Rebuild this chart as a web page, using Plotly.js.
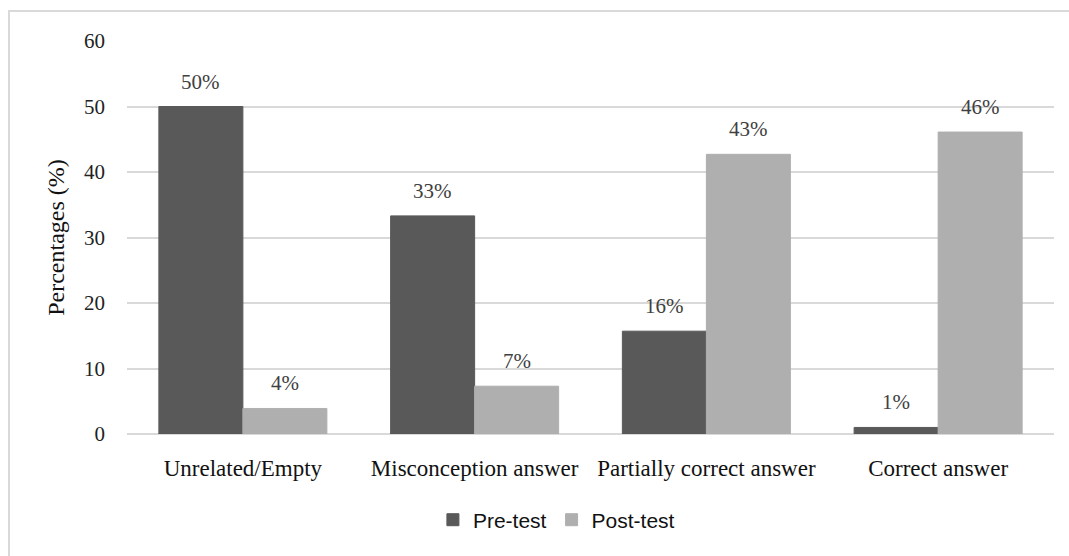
<!DOCTYPE html>
<html>
<head>
<meta charset="utf-8">
<script src="https://cdn.plot.ly/plotly-3.0.1.min.js"></script>
<style>html,body{margin:0;padding:0;background:#fff;}#chart{width:1069px;height:556px;}</style>
</head>
<body>
<div id="chart"></div>
<script>
const categories = ["Unrelated/Empty", "Misconception answer", "Partially correct answer", "Correct answer"];
const preTest = [50.0, 33.3, 15.7, 1.0];
const postTest = [3.9, 7.3, 42.7, 46.1];
const preLabels = ["50%", "33%", "16%", "1%"];
const postLabels = ["4%", "7%", "43%", "46%"];
const yTicks = [0, 10, 20, 30, 40, 50, 60];

const serif = "Liberation Serif, Times New Roman, serif";
const preColor = "#595959";
const postColor = "#afafaf";

const traces = [
  {type: "bar", name: "Pre-test", x: categories, y: preTest, marker: {color: preColor, line: {color: preColor, width: 1}}, hoverinfo: "none"},
  {type: "bar", name: "Post-test", x: categories, y: postTest, marker: {color: postColor, line: {color: postColor, width: 1}}, hoverinfo: "none"}
];

const bargap = 0.275;
const plotW = 1069 - 127 - 15;
const barW = plotW / categories.length * (1 - bargap) / 2;

const annotations = [];
categories.forEach((c, i) => {
  annotations.push({x: c, y: preTest[i], xref: "x", yref: "y", text: preLabels[i], showarrow: false,
    xshift: -barW / 2, yshift: 25, yanchor: "middle", font: {family: serif, size: 21, color: "#404040"}});
  annotations.push({x: c, y: postTest[i], xref: "x", yref: "y", text: postLabels[i], showarrow: false,
    xshift: barW / 2, yshift: 25, yanchor: "middle", font: {family: serif, size: 21, color: "#404040"}});
});

const layout = {
  width: 1069, height: 556,
  margin: {l: 127, r: 15, t: 41, b: 122},
  paper_bgcolor: "#ffffff", plot_bgcolor: "#ffffff",
  barmode: "group", bargap: bargap, bargroupgap: 0,
  xaxis: {
    type: "category", showgrid: false, zeroline: false, showline: false, ticks: "",
    ticklabelstandoff: 18,
    tickfont: {family: serif, size: 23, color: "#111111"}
  },
  yaxis: {
    range: [0, 60], tickvals: yTicks, ticktext: yTicks.map(String),
    showgrid: true, gridcolor: "#d9d9d9", gridwidth: 2,
    zeroline: true, zerolinecolor: "#d9d9d9", zerolinewidth: 2,
    showline: false, ticks: "", ticklabelstandoff: 21,
    tickfont: {family: serif, size: 21, color: "#222222"},
    title: {text: "Percentages (%)", font: {family: serif, size: 24, color: "#111111"}, standoff: 12}
  },
  showlegend: true,
  legend: {
    orientation: "h", x: 0.33, xanchor: "left", y: -0.219, yanchor: "middle",
    font: {family: "Liberation Sans, Arial, sans-serif", size: 21, color: "#111111"},
    itemwidth: 30, traceorder: "normal", bgcolor: "rgba(0,0,0,0)"
  },
  annotations: annotations,
  shapes: [{
    type: "rect", xref: "paper", yref: "paper",
    x0: (9 - 127) / plotW, x1: 1.2, y0: -0.6, y1: 1 + 30 / 393,
    line: {color: "#d9d9d9", width: 2}, fillcolor: "rgba(0,0,0,0)", layer: "below"
  }]
};

Plotly.newPlot("chart", traces, layout, {displayModeBar: false, staticPlot: true});
</script>
</body>
</html>
